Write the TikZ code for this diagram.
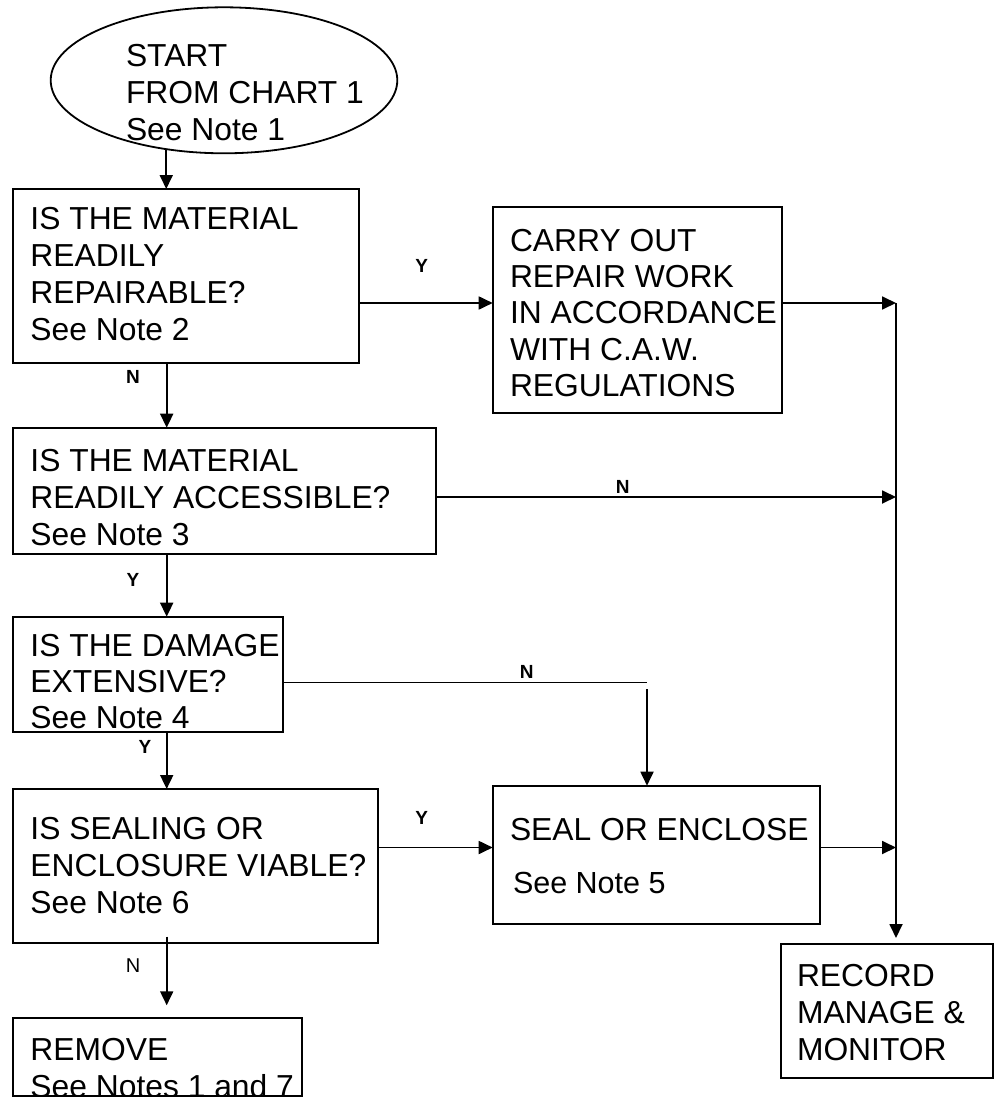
\documentclass[tikz,border=0pt]{standalone}
\usepackage{fontspec}
\setmainfont{Liberation Sans}
\usetikzlibrary{arrows.meta,shapes.geometric}
\tikzset{
  box/.style={draw, line width=1.8pt, rectangle, inner sep=0pt, outer sep=0pt, anchor=north west},
  txt/.style={font=\fontsize{31.8}{36.7}\selectfont, align=left, anchor=base west, inner sep=0pt, outer sep=0pt},
  lbl/.style={font=\bfseries\fontsize{19}{19}\selectfont, inner sep=0pt},
  lblr/.style={font=\fontsize{20}{20}\selectfont, inner sep=0pt},
  ln/.style={line width=1.8pt},
  arr/.style={line width=1.8pt, -{Triangle[length=14pt,width=13pt]}},
}
\begin{document}
\begin{tikzpicture}[x=1pt,y=-1pt]
\useasboundingbox (0,0) rectangle (994,1097);
\clip (0,0) rectangle (994,1097);
% shapes
\node[draw, ellipse, line width=1.8pt, inner sep=0pt, outer sep=0pt, minimum width=346.6pt, minimum height=146pt] (ell) at (224,80.3) {};
\node[box, minimum width=346.3pt, minimum height=173.7pt] (b1) at (12.7,189) {};
\node[box, minimum width=289pt, minimum height=206pt] (b2) at (492.7,206.7) {};
\node[box, minimum width=423pt, minimum height=126.6pt] (b3) at (12.7,427.7) {};
\node[box, minimum width=270pt, minimum height=115pt] (b4) at (12.7,616.7) {};
\node[box, minimum width=365.6pt, minimum height=154.3pt] (b5) at (12.7,789) {};
\node[box, minimum width=327.3pt, minimum height=138.3pt] (seal) at (492.7,785.7) {};
\node[box, minimum width=212.3pt, minimum height=133.7pt] (rec) at (781,944) {};
\node[box, minimum width=289pt, minimum height=77.4pt] (rem) at (12.7,1018.3) {};
% texts (anchored at the baseline of the last line)
\node[txt] (tell) at (126,140.1) {START\\FROM CHART 1\\See Note 1};
\node[txt, font=\fontsize{31.8}{37}\selectfont] (tb1) at (30.5,340) {IS THE MATERIAL\\READILY\\REPAIRABLE?\\See Note 2};
\node[txt, font=\fontsize{31.8}{36.4}\selectfont] (tb2) at (510,396.6) {CARRY OUT\\REPAIR WORK\\IN ACCORDANCE\\WITH C.A.W.\\REGULATIONS};
\node[txt] (tb3) at (30.5,545.1) {IS THE MATERIAL\\READILY ACCESSIBLE?\\See Note 3};
\node[txt, font=\fontsize{31.8}{36}\selectfont] (tb4) at (30.5,728) {IS THE DAMAGE\\EXTENSIVE?\\See Note 4};
\node[txt, font=\fontsize{31.8}{37}\selectfont] (tb5) at (30.5,913) {IS SEALING OR\\ENCLOSURE VIABLE?\\See Note 6};
\node[txt] (tseal) at (510,840) {SEAL OR ENCLOSE};
\node[txt, font=\fontsize{30.5}{36}\selectfont] (tseal2) at (513,893) {See Note 5};
\node[txt, font=\fontsize{31.8}{37}\selectfont] (trec) at (797,1060.7) {RECORD\\MANAGE \&\\MONITOR};
\node[txt, font=\fontsize{31.8}{36.8}\selectfont] (trem) at (30.5,1097.5) {REMOVE\\See Notes 1 and 7};
% helper coordinates
\coordinate (c0) at (166.7,0);
\coordinate (r1) at (0,303);
\coordinate (r3) at (0,497);
\coordinate (r5) at (0,847.5);
\coordinate (t1) at (896,303);
\coordinate (n1) at (647,682.5);
\coordinate (n2) at (647,689);
% connectors
\draw[arr] (ell.230.25) -- (ell.230.25 |- b1.north);
\draw[arr] (b1.east |- r1) -- (b2.west |- r1);
\draw[arr] (b2.east |- r1) -- (t1);
\draw[arr, shorten >=6pt] (t1) -- (t1 |- rec.north);
\draw[arr] (b1.south -| c0) -- (b3.north -| c0);
\draw[arr] (b3.east |- r3) -- (t1 |- r3);
\draw[arr] (b3.south -| c0) -- (b4.north -| c0);
\draw[ln] (b4.east |- n1) -- (n1);
\draw[arr] (n2) -- (n2 |- seal.north);
\draw[arr] (b4.south -| c0) -- (b5.north -| c0);
\draw[arr] (b5.east |- r5) -- (seal.west |- r5);
\draw[arr] (seal.east |- r5) -- (t1 |- r5);
\draw[arr, shorten >=13pt] ([yshift=6.6pt]b5.south -| c0) -- (rem.north -| c0);
% labels
\node[lbl] (ly1) at (421.7,266) {Y};
\node[lbl] (ln1) at (133,377) {N};
\node[lbl] (ln3) at (622.7,487) {N};
\node[lbl] (ly3) at (133,580) {Y};
\node[lbl] (ln4) at (526.7,671.7) {N};
\node[lbl] (ly4) at (145,746.7) {Y};
\node[lbl] (ly5) at (421.7,818) {Y};
\node[lblr] (ln5) at (133,966) {N};
\end{tikzpicture}
\end{document}
